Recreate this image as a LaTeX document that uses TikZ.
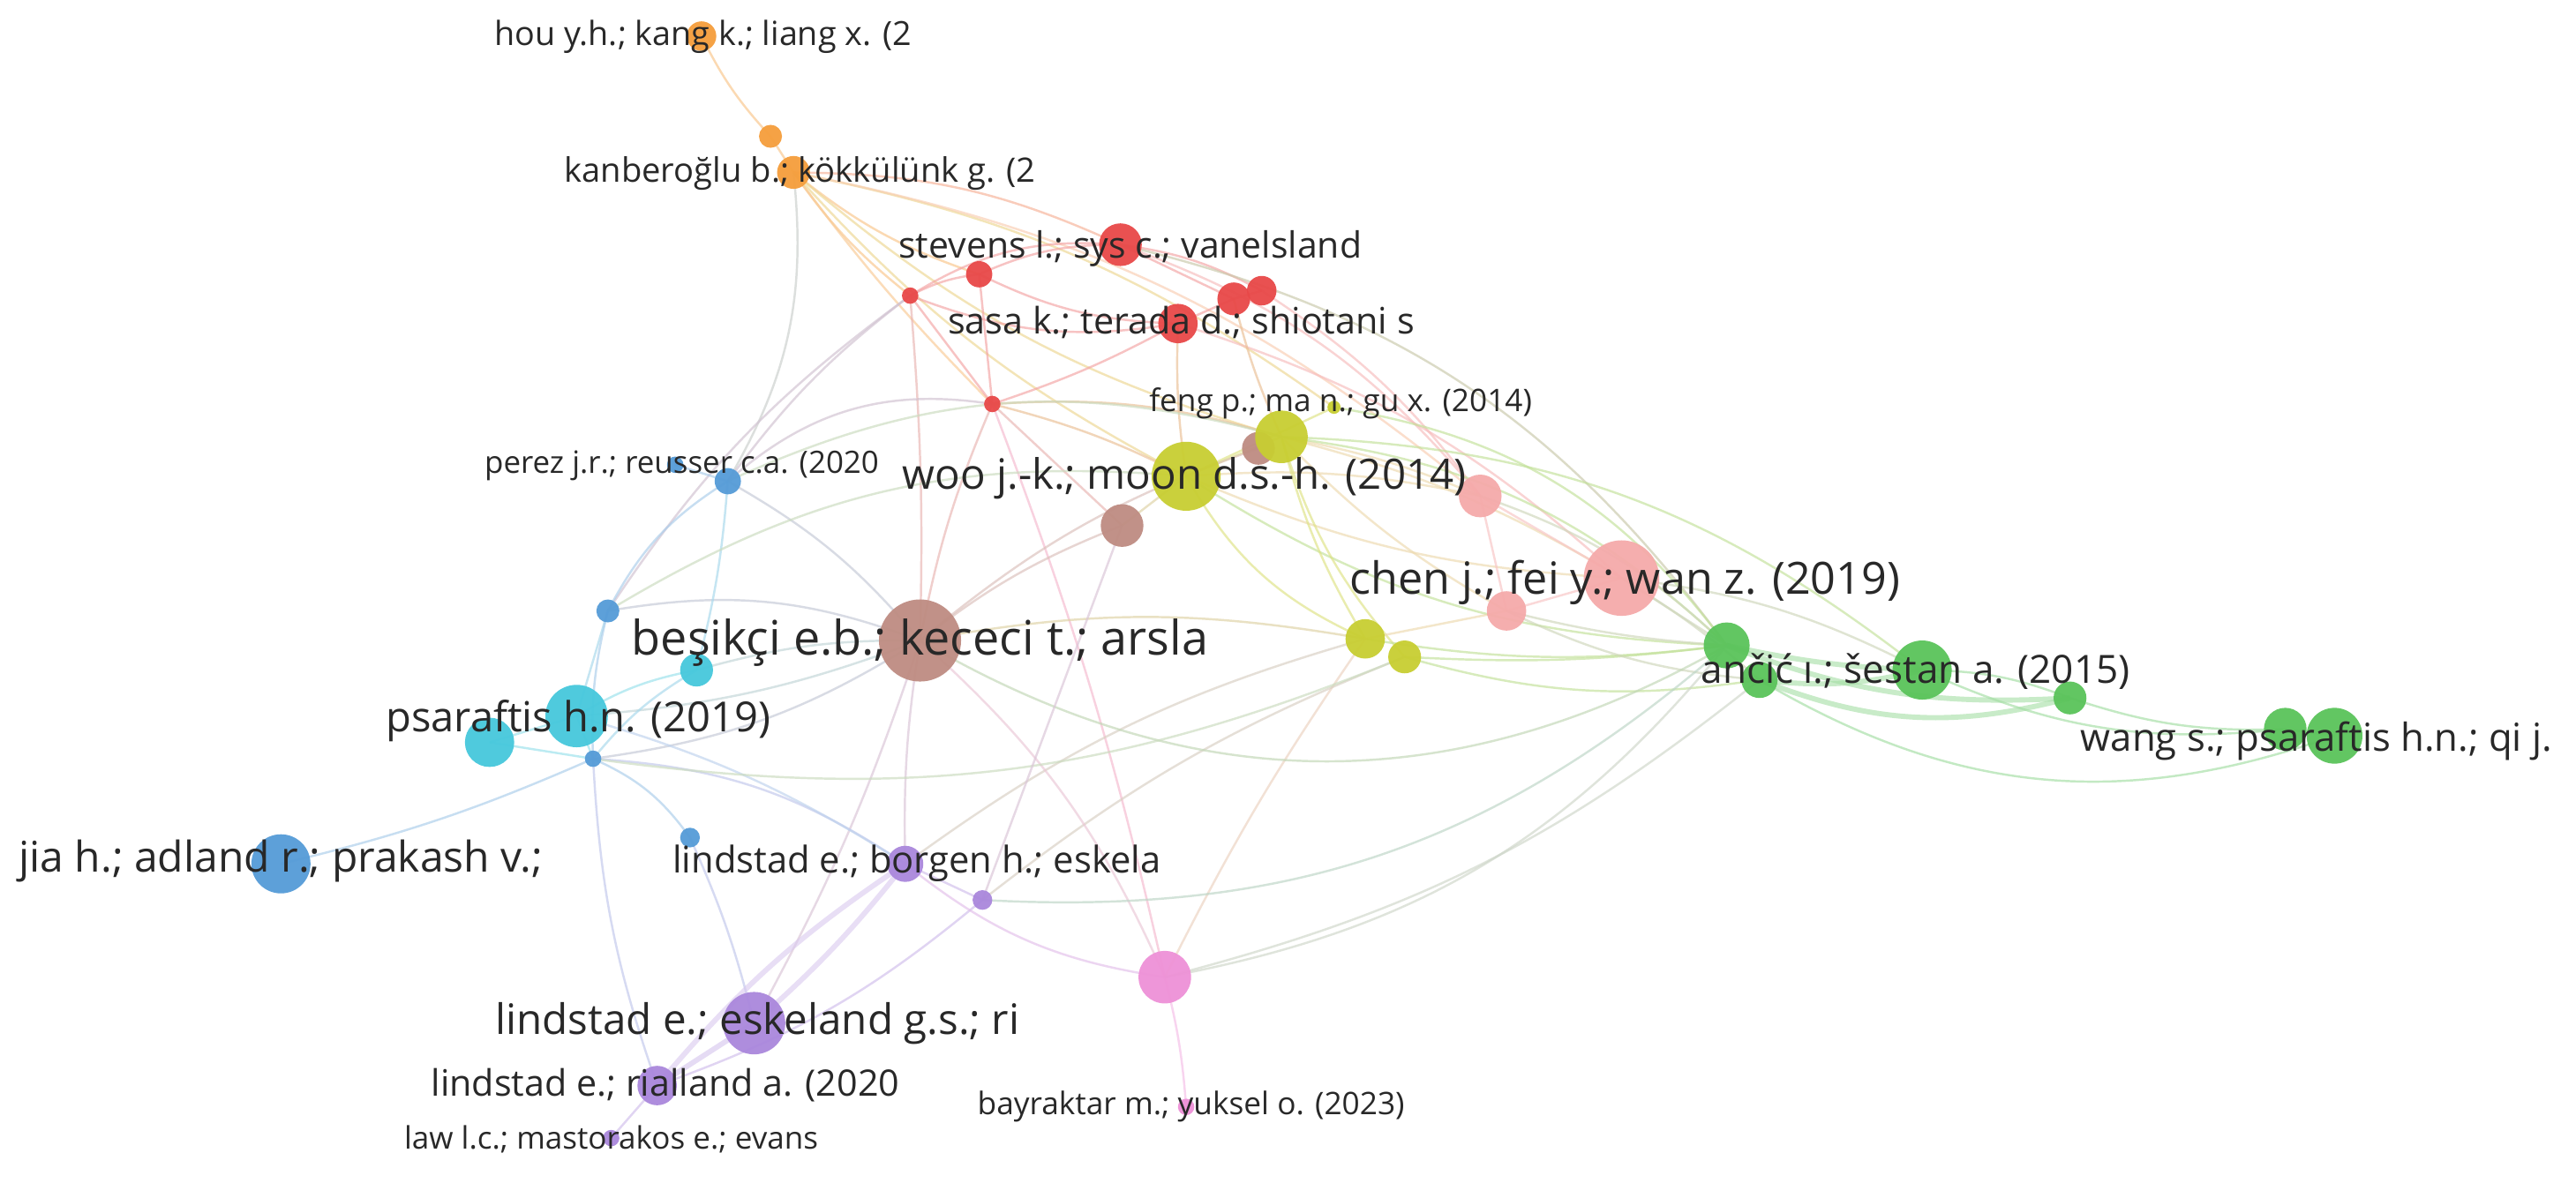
\documentclass[tikz,border=0pt]{standalone}
\usepackage{fontspec}
\setmainfont{Open Sans}
\usepackage{graphicx}
\definecolor{cRed}{RGB}{232,72,72}
\definecolor{cOra}{RGB}{245,158,60}
\definecolor{cYel}{RGB}{200,206,50}
\definecolor{cBro}{RGB}{190,140,130}
\definecolor{cSal}{RGB}{245,170,170}
\definecolor{cGre}{RGB}{90,195,90}
\definecolor{cBlu}{RGB}{85,155,215}
\definecolor{cCya}{RGB}{70,200,220}
\definecolor{cPur}{RGB}{170,135,220}
\definecolor{cPin}{RGB}{238,145,215}
\definecolor{txt}{RGB}{40,40,40}
\tikzset{
  nd/.style={circle,inner sep=0pt,draw=none,fill opacity=0.95},
  ed/.style={line width=0.75pt,draw opacity=0.65},
  edthick/.style={line width=1.8pt,draw opacity=0.6},
  lbl/.style={inner sep=0pt,text=txt,anchor=base},
}
\newcommand{\nd}[5]{\node[nd,fill=#5,minimum size=#4*0.04cm] (#1) at (#2,-#3) {};}
\newcommand{\lb}[5]{\node[lbl] (#1) at (#2,-#3) {\resizebox{#4cm}{!}{#5}};}
\begin{document}
\begin{tikzpicture}[x=0.02cm,y=0.02cm]
\fill[white] (0,0) rectangle (1568,-720);
\useasboundingbox (0,0) rectangle (1568,-720);
% ---------- node coordinates (drawn later, need names for edges) ----------
\path
 (427,-22) coordinate (hou) (469,-83) coordinate (o2) (483,-105) coordinate (kanb)
 (682,-149) coordinate (st) (596,-167) coordinate (r2) (554,-180) coordinate (r3)
 (751,-182) coordinate (r4) (768,-177) coordinate (r5) (717,-197) coordinate (sasa)
 (604,-246) coordinate (r7) (812,-248) coordinate (fengn) (780,-266) coordinate (y2)
 (766,-273) coordinate (bsm) (722,-290) coordinate (woo) (683,-320) coordinate (b2)
 (901,-302) coordinate (p2) (987,-352) coordinate (p1) (917,-372) coordinate (p3)
 (831,-389) coordinate (y3) (855,-400) coordinate (y4)
 (1051,-393) coordinate (g1) (1071,-414) coordinate (g1b) (1170,-408) coordinate (g2)
 (1260,-425) coordinate (g3) (1391,-444) coordinate (g4) (1421,-448) coordinate (g5)
 (560,-390) coordinate (b1) (411,-283) coordinate (bl1) (443,-293) coordinate (bl2)
 (370,-372) coordinate (bl3) (424,-408) coordinate (c3) (351,-436) coordinate (c1)
 (298,-452) coordinate (c2) (361,-462) coordinate (bl4) (420,-510) coordinate (bl5)
 (171,-526) coordinate (jia) (551,-526) coordinate (pu1) (598,-548) coordinate (pu2)
 (459,-623) coordinate (pu3) (400,-661) coordinate (pu4) (372,-693) coordinate (pu5)
 (709,-595) coordinate (m1) (722,-674) coordinate (m2);
% ---------- edges ----------
\begin{scope}
% orange
\draw[ed,cOra!60] (hou) to[bend right=8] (o2);
\draw[ed,cOra!60] (o2) -- (kanb);
\draw[ed,cOra!60] (kanb) to[bend right=8] (r3);
\draw[ed,cOra!60] (kanb) to[bend right=10] (r2);
\draw[ed,cOra!50!cRed!55] (kanb) to[bend left=12] (st);
\draw[ed,cOra!55] (kanb) to[bend right=4] (r7);
\draw[ed,cOra!50!cYel!55] (kanb) to[bend right=10] (woo);
\draw[ed,cOra!50!cYel!55] (kanb) to[bend right=12] (y2);
\draw[ed,cOra!50!cYel!55] (kanb) to[bend left=12] (fengn);
\draw[ed,cOra!50!cSal!55] (kanb) to[bend left=14] (p2);
\draw[ed,cOra!40!cBlu!50] (kanb) to[bend left=18] (bl2);
% red
\draw[ed,cRed!50] (r3) to[bend left=10] (r2);
\draw[ed,cRed!50] (r3) to[bend left=18] (st);
\draw[ed,cRed!50] (r2) to[bend left=12] (st);
\draw[ed,cRed!50] (r2) to[bend right=12] (sasa);
\draw[ed,cRed!50] (r3) to[bend right=15] (sasa);
\draw[ed,cRed!50] (st) to[bend left=10] (r5);
\draw[ed,cRed!50] (st) -- (r4);
\draw[ed,cRed!50] (sasa) -- (r4);
\draw[ed,cRed!50] (r4) -- (r5);
\draw[ed,cRed!50!cBro!50] (r3) to[bend left=3] (b1);
\draw[ed,cRed!50] (r2) -- (r7);
\draw[ed,cRed!50] (r3) -- (r7);
\draw[ed,cRed!50!cBro!50] (r7) to[bend right=6] (b1);
\draw[ed,cRed!50!cYel!55] (r7) to[bend left=6] (woo);
\draw[ed,cRed!50!cYel!55] (r7) to[bend left=10] (y2);
\draw[ed,cRed!50!cBro!50] (r7) -- (b2);
\draw[ed,cRed!45!cBlu!45] (r7) to[bend right=25] (bl2);
\draw[ed,cRed!40!cPin!50] (r7) to[bend left=4] (m1);
\draw[ed,cRed!50] (r7) to[bend right=5] (sasa);
\draw[ed,cRed!50!cSal!50] (st) to[bend left=15] (p2);
\draw[ed,cRed!50!cSal!50] (sasa) to[bend left=12] (p1);
\draw[ed,cRed!50!cSal!50] (r5) to[bend left=10] (p2);
\draw[ed,cRed!40!cGre!50] (st) to[bend left=20] (g1);
\draw[ed,cRed!50!cYel!55] (r4) to[bend right=5] (y2);
\draw[ed,cRed!50!cYel!55] (sasa) to[bend right=5] (woo);
\draw[ed,cRed!45!cBlu!45] (bl3) to[bend left=10] (r3);
\draw[ed,cRed!45!cBlu!45] (bl2) to[bend left=8] (r3);
% yellow
\draw[ed,cYel!60] (woo) -- (y2);
\draw[ed,cYel!50!cBro!55] (woo) -- (b2);
\draw[ed,cYel!60] (woo) -- (fengn);
\draw[ed,cYel!50!cSal!55] (woo) to[bend left=8] (p2);
\draw[ed,cYel!50!cSal!55] (woo) to[bend right=10] (p1);
\draw[ed,cYel!50!cGre!55] (woo) to[bend right=15] (g1);
\draw[ed,cYel!60] (woo) to[bend right=18] (y3);
\draw[ed,cYel!60] (y2) to[bend right=8] (y3);
\draw[ed,cYel!60] (y2) to[bend right=12] (y4);
\draw[ed,cYel!50!cSal!55] (y2) to[bend left=8] (p1);
\draw[ed,cYel!50!cSal!55] (y2) to[bend left=6] (p2);
\draw[ed,cYel!50!cGre!55] (y2) to[bend left=18] (g1);
\draw[ed,cYel!50!cGre!55] (y2) to[bend left=18] (g2);
\draw[ed,cYel!50!cGre!55] (fengn) to[bend left=22] (g1);
\draw[ed,cYel!50!cSal!55] (y2) to[bend right=8] (p3);
\draw[ed,cYel!50!cGre!55] (y3) to[bend right=8] (g1);
\draw[ed,cYel!50!cGre!55] (y4) to[bend right=12] (g1b);
\draw[ed,cYel!50!cGre!55] (y4) to[bend right=5] (g1);
\draw[ed,cYel!50!cSal!55] (y3) -- (p3);
\draw[ed,cYel!45!cPin!55] (y3) to[bend right=4] (m1);
\draw[ed,cYel!45!cPur!55] (y3) to[bend right=10] (pu1);
\draw[ed,cYel!45!cPur!55] (y4) to[bend right=8] (pu2);
\draw[ed,cBro!55] (bsm) to[bend right=10] (b1);
% salmon
\draw[ed,cSal!70] (p2) -- (p1);
\draw[ed,cSal!70] (p2) -- (p3);
\draw[ed,cSal!70] (p3) -- (p1);
\draw[ed,cSal!50!cGre!55] (p2) to[bend left=12] (g1);
\draw[ed,cSal!50!cGre!55] (p1) -- (g1);
\draw[ed,cSal!50!cGre!55] (p1) to[bend left=5] (g1b);
\draw[ed,cSal!50!cGre!55] (p1) to[bend left=10] (g2);
\draw[ed,cSal!50!cGre!55] (p3) to[bend right=5] (g1);
\draw[ed,cSal!50!cGre!55] (p3) to[bend right=10] (g1b);
% green
\draw[edthick,cGre!55] (g1) to[bend right=5] (g2);
\draw[edthick,cGre!55] (g1b) to[bend right=10] (g2);
\draw[edthick,cGre!55] (g1) to[bend right=12] (g3);
\draw[edthick,cGre!55] (g1b) to[bend right=18] (g3);
\draw[ed,cGre!55] (g2) to[bend left=10] (g3);
\draw[ed,cGre!55] (g3) to[bend right=10] (g4);
\draw[ed,cGre!55] (g1b) to[bend right=25] (g5);
\draw[ed,cGre!55] (g4) -- (g5);
\draw[ed,cGre!55] (g2) to[bend right=15] (g4);
% brown b1
\draw[ed,cBro!50!cCya!50] (b1) to[bend right=8] (c3);
\draw[ed,cBro!50!cCya!50] (b1) to[bend left=8] (c1);
\draw[ed,cBro!50!cBlu!50] (b1) to[bend left=12] (bl4);
\draw[ed,cBro!50!cBlu!50] (b1) to[bend right=10] (bl2);
\draw[ed,cBro!50!cBlu!50] (b1) to[bend right=15] (bl3);
\draw[ed,cBro!50!cPur!50] (b1) to[bend right=5] (pu1);
\draw[ed,cBro!50!cPin!50] (b1) to[bend left=12] (m1);
\draw[ed,cBro!40!cGre!50] (b1) to[bend right=30] (g1);
\draw[ed,cBro!55] (b1) to[bend left=8] (b2);
\draw[ed,cBro!50!cYel!55] (b1) to[bend left=10] (y3);
\draw[ed,cBro!50!cPur!50] (b1) to[bend left=5] (pu3);
% cyan / blue
\draw[ed,cCya!55] (c1) -- (c2);
\draw[ed,cCya!55] (c1) -- (bl4);
\draw[ed,cCya!55] (c2) -- (bl4);
\draw[ed,cCya!55] (c1) to[bend left=10] (c3);
\draw[ed,cCya!50!cBlu!50] (c1) -- (bl3);
\draw[ed,cCya!50!cBlu!50] (c3) to[bend right=5] (bl2);
\draw[ed,cCya!50!cBlu!50] (c3) to[bend right=10] (bl4);
\draw[ed,cBlu!50] (bl3) to[bend left=15] (bl2);
\draw[ed,cBlu!50] (bl3) to[bend right=8] (bl4);
\draw[ed,cBlu!50] (bl1) -- (bl2);
\draw[ed,cBlu!50] (bl4) to[bend left=15] (bl5);
\draw[ed,cBlu!45!cPur!50] (bl4) to[bend left=15] (pu1);
\draw[ed,cBlu!45!cPur!50] (bl4) to[bend right=8] (pu4);
\draw[ed,cBlu!50] (bl4) to[bend left=5] (jia);
\draw[ed,cBlu!45!cPur!50] (bl5) to[bend left=5] (pu3);
\draw[ed,cCya!45!cPur!50] (c1) to[bend left=8] (pu1);
\draw[ed,cBlu!45!cYel!50] (bl2) to[bend left=20] (y2);
\draw[ed,cBlu!45!cYel!50] (bl3) to[bend left=18] (woo);
\draw[ed,cBlu!45!cYel!50] (bl4) to[bend right=15] (y4);
% purple
\draw[ed,cPur!55] (pu1) -- (pu2);
\draw[edthick,cPur!45] (pu1) to[bend left=5] (pu3);
\draw[edthick,cPur!45] (pu1) to[bend right=8] (pu4);
\draw[edthick,cPur!50] (pu3) -- (pu4);
\draw[ed,cPur!55] (pu4) -- (pu5);
\draw[ed,cPur!55] (pu2) to[bend left=10] (pu4);
\draw[ed,cPur!50!cPin!55] (pu1) to[bend right=15] (m1);
\draw[ed,cPur!40!cGre!50] (pu2) to[bend right=22] (g1);
\draw[ed,cPur!50!cBro!50] (pu2) -- (b2);
% pink
\draw[ed,cPin!60] (m1) to[bend left=5] (m2);
\draw[ed,cPin!45!cGre!50] (m1) to[bend right=20] (g1);
\draw[ed,cPin!45!cGre!50] (m1) to[bend right=12] (g1b);
\end{scope}
% ---------- nodes ----------
\nd{nhou}{427}{22}{9}{cOra}
\nd{no2}{469}{83}{7}{cOra}
\nd{nkanb}{483}{105}{10}{cOra}
\nd{nst}{682}{149}{13}{cRed}
\nd{nr2}{596}{167}{8}{cRed}
\nd{nr3}{554}{180}{5}{cRed}
\nd{nr4}{751}{182}{10}{cRed}
\nd{nr5}{768}{177}{9}{cRed}
\nd{nsasa}{717}{197}{12}{cRed}
\nd{nr7}{604}{246}{5}{cRed}
\nd{nbsm}{766}{273}{10}{cBro}
\nd{ny2}{780}{266}{16}{cYel}
\nd{nfeng}{812}{248}{4}{cYel}
\nd{nwoo}{722}{290}{21}{cYel}
\nd{nb2}{683}{320}{13}{cBro}
\nd{np2}{901}{302}{13}{cSal}
\nd{np1}{987}{352}{23}{cSal}
\nd{np3}{917}{372}{12}{cSal}
\nd{ny3}{831}{389}{12}{cYel}
\nd{ny4}{855}{400}{10}{cYel}
\nd{ng1}{1051}{393}{14}{cGre}
\nd{ng1b}{1071}{414}{11}{cGre}
\nd{ng2}{1170}{408}{18}{cGre}
\nd{ng3}{1260}{425}{10}{cGre}
\nd{ng4}{1391}{444}{13}{cGre}
\nd{ng5}{1421}{448}{17}{cGre}
\nd{nb1}{560}{390}{25}{cBro}
\nd{nbl1}{411}{283}{5}{cBlu}
\nd{nbl2}{443}{293}{8}{cBlu}
\nd{nbl3}{370}{372}{7}{cBlu}
\nd{nc3}{424}{408}{10}{cCya}
\nd{nc2}{298}{452}{15}{cCya}
\nd{nc1}{351}{436}{19}{cCya}
\nd{nbl4}{361}{462}{5}{cBlu}
\nd{nbl5}{420}{510}{6}{cBlu}
\nd{njia}{171}{526}{18}{cBlu}
\nd{npu1}{551}{526}{11}{cPur}
\nd{npu2}{598}{548}{6}{cPur}
\nd{npu3}{459}{623}{19}{cPur}
\nd{npu4}{400}{661}{12}{cPur}
\nd{npu5}{372}{693}{5}{cPur}
\nd{nm1}{709}{595}{16}{cPin}
\nd{nm2}{722}{674}{5}{cPin}
% ---------- labels ----------
\lb{lhou}{428}{27.6}{5.08}{hou y.h.; kang k.; liang x. (2}
\lb{lkanb}{487}{110.7}{5.74}{kanberoğlu b.; kökkülünk g. (2}
\lb{lst}{688}{157.2}{5.64}{stevens l.; sys c.; vanelsland}
\lb{lsasa}{719}{203.2}{5.68}{sasa k.; terada d.; shiotani s}
\lb{lfeng}{816}{250.4}{4.66}{feng p.; ma n.; gu x. (2014)}
\lb{lwoo}{721}{297.6}{6.86}{woo j.-k.; moon d.s.-h. (2014)}
\lb{lperez}{415}{288.4}{4.80}{perez j.r.; reusser c.a. (2020}
\lb{lb1}{560}{398.8}{7.02}{beşikçi e.b.; kececi t.; arsla}
\lb{lchen}{989}{361.6}{6.70}{chen j.; fei y.; wan z. (2019)}
\lb{lancic}{1166}{415.8}{5.22}{ančić ı.; šestan a. (2015)}
\lb{lwang}{1410}{457.4}{5.74}{wang s.; psaraftis h.n.; qi j.}
\lb{lpsar}{352}{445.4}{4.68}{psaraftis h.n. (2019)}
\lb{ljia}{171}{531}{6.38}{jia h.; adland r.; prakash v.;}
\lb{lborg}{558}{531.5}{5.94}{lindstad e.; borgen h.; eskela}
\lb{lesk}{461}{630}{6.38}{lindstad e.; eskeland g.s.; ri}
\lb{lrial}{405}{667.3}{5.70}{lindstad e.; rialland a. (2020}
\lb{llaw}{372}{699.6}{5.04}{law l.c.; mastorakos e.; evans}
\lb{lbay}{725}{678.7}{5.20}{bayraktar m.; yuksel o. (2023)}
\end{tikzpicture}
\end{document}
